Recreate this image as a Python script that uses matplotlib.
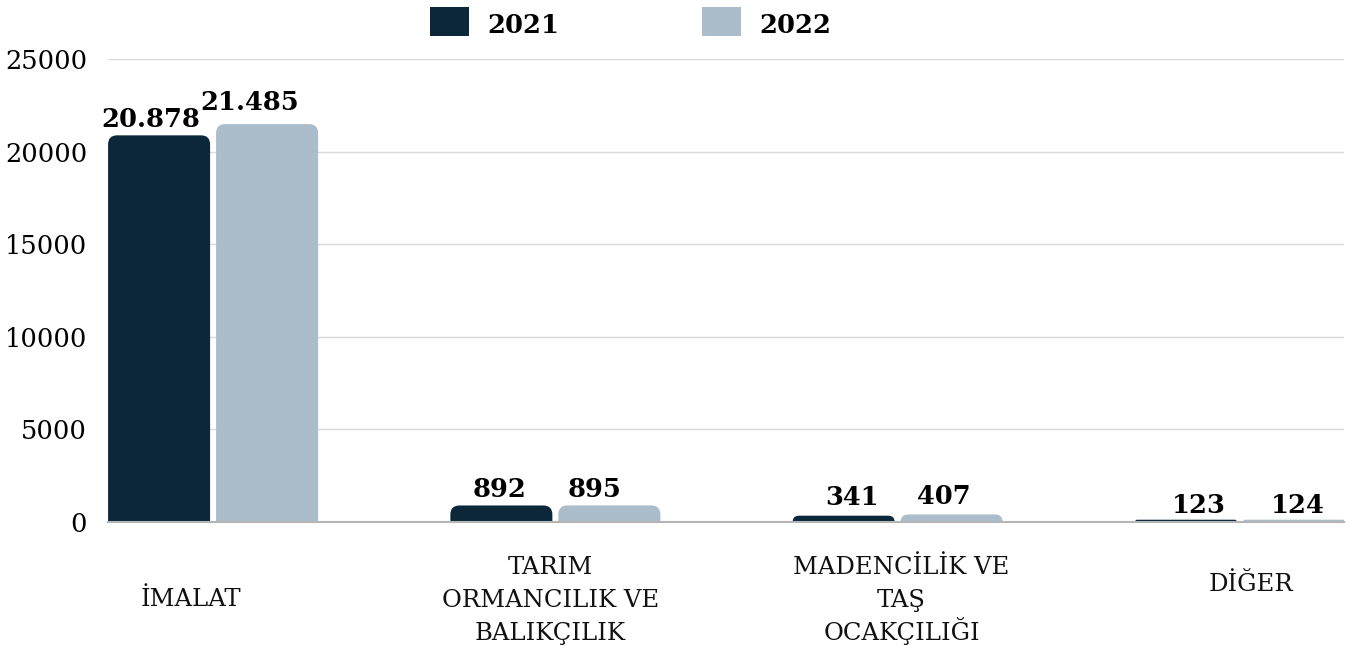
import matplotlib
matplotlib.use("Agg")
import matplotlib.pyplot as plt
from matplotlib.patches import FancyBboxPatch, Rectangle, BoxStyle
from matplotlib.transforms import blended_transform_factory
import numpy as np

# ---------------- data ----------------
categories = ["İMALAT", "TARIM\nORMANCILIK VE\nBALIKÇILIK", "MADENCİLİK VE\nTAŞ\nOCAKÇILIĞI", "DİĞER"]
series_names = ["2021", "2022"]
values_2021 = [20878, 892, 341, 123]
values_2022 = [21485, 895, 407, 124]
value_labels_2021 = ["20.878", "892", "341", "123"]
value_labels_2022 = ["21.485", "895", "407", "124"]
y_ticks = [0, 5000, 10000, 15000, 20000, 25000]

# ---------------- style ----------------
W, H = 1349, 646
DARK = "#0B2739"
LIGHT = "#ABBCCA"
colors = [DARK, LIGHT]
plt.rcParams['font.family'] = ['DejaVu Serif']

fig = plt.figure(figsize=(W / 100, H / 100), dpi=100)
ax_l, ax_r, ax_t, ax_b = 108, 1344, 59, 522
ax = fig.add_axes([ax_l / W, 1 - ax_b / H, (ax_r - ax_l) / W, (ax_b - ax_t) / H])

x_left, x_right = -0.307, 3.304
y_max = 25000
ax.set_xlim(x_left, x_right)
ax.set_ylim(0, y_max)

px_per_x = (ax_r - ax_l) / (x_right - x_left)
px_per_y = (ax_b - ax_t) / y_max

bar_w = 102 / px_per_x
off = 54 / px_per_x
x = np.arange(len(categories))

ax.set_yticks(y_ticks)
ax.yaxis.grid(True, color="#d9d9d9", linewidth=1.0)
ax.set_axisbelow(True)
for s in ["top", "right", "left"]:
    ax.spines[s].set_visible(False)
ax.spines["bottom"].set_color("#b5b5b5")
ax.spines["bottom"].set_linewidth(1.5)
ax.tick_params(axis="y", length=0, pad=15, labelsize=18.5)
ax.tick_params(axis="x", length=0)
ax.set_xticks([])

aspect = (1 / px_per_y) / (1 / px_per_x)
radius_px = 9

all_vals = [values_2021, values_2022]
all_labels = [value_labels_2021, value_labels_2022]
label_dx = [[-8, -2, 8, 13], [-17, -15, -8, 4]]
label_dy = [[8, 8, 11, 7], [14, 8, 10, 7]]

for si, (vals, labs) in enumerate(zip(all_vals, all_labels)):
    bars = ax.bar(x + (2 * si - 1) * off, vals, width=bar_w, color=colors[si])
    for bi, rect in enumerate(bars):
        rect.set_visible(False)
        h = rect.get_height()
        r_px = min(radius_px, h * px_per_y)
        r_y = r_px / px_per_y
        r_x = r_px / px_per_x
        p = FancyBboxPatch((rect.get_x(), -r_y), rect.get_width(), h + r_y,
                           boxstyle=BoxStyle("Round", pad=0, rounding_size=r_x),
                           mutation_aspect=aspect, facecolor=colors[si],
                           edgecolor="none", zorder=2)
        ax.add_patch(p)
        ax.annotate(labs[bi], (rect.get_x() + rect.get_width() / 2, h),
                    xytext=(label_dx[si][bi] * 0.72, label_dy[si][bi] * 0.72),
                    textcoords="offset points", ha="center", va="baseline",
                    fontsize=18.5, fontweight="bold", color="black", zorder=3)

# category labels: one text per line, baselines in figure pixels
cat_dx = [-22, -5, 4, 11]
cat_first_baseline = [606, 574, 574, 591]
line_pitch = 33
trans = blended_transform_factory(ax.transData, fig.transFigure)
for i, c in enumerate(categories):
    for li, line in enumerate(c.split("\n")):
        yb = cat_first_baseline[i] + li * line_pitch
        ax.text(x[i] + cat_dx[i] / px_per_x, 1 - yb / H, line, transform=trans,
                ha="center", va="baseline", fontsize=17.5,
                color="#111111", clip_on=False)

# legend
leg_x = [430, 702]
for i, name in enumerate(series_names):
    fig.add_artist(Rectangle((leg_x[i] / W, 1 - 36 / H), 39 / W, 29 / H,
                             transform=fig.transFigure, facecolor=colors[i],
                             edgecolor="none"))
    fig.text((leg_x[i] + 57) / W, 1 - 33 / H, name, fontsize=18.5,
             fontweight="bold", ha="left", va="baseline")

fig.savefig("out.png", dpi=100)
